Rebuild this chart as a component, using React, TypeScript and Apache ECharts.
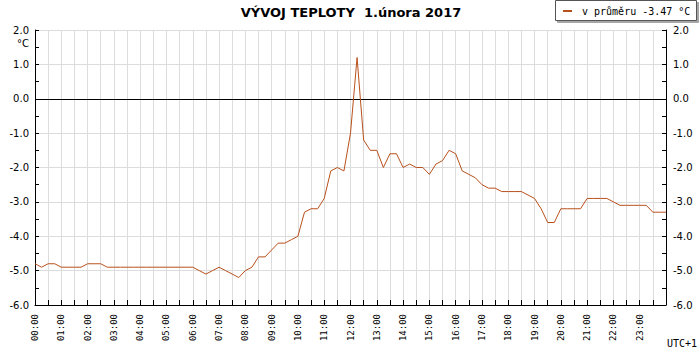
import React, { useEffect, useRef } from "react";
import * as echarts from "echarts";

const titleText = "VÝVOJ TEPLOTY  1.února 2017";
const legendText = "v průměru -3.47 °C";
const unitText = "°C";
const tzText = "UTC+1";

// temperature every 15 minutes, 00:00 .. 24:00
const temps: number[] = [
  -4.8, -4.9, -4.8, -4.8, -4.9, -4.9, -4.9, -4.9, -4.8, -4.8, -4.8, -4.9,
  -4.9, -4.9, -4.9, -4.9, -4.9, -4.9, -4.9, -4.9, -4.9, -4.9, -4.9, -4.9,
  -4.9, -5.0, -5.1, -5.0, -4.9, -5.0, -5.1, -5.2, -5.0, -4.9, -4.6, -4.6,
  -4.4, -4.2, -4.2, -4.1, -4.0, -3.3, -3.2, -3.2, -2.9, -2.1, -2.0, -2.1,
  -1.0, 1.2, -1.2, -1.5, -1.5, -2.0, -1.6, -1.6, -2.0, -1.9, -2.0, -2.0,
  -2.2, -1.9, -1.8, -1.5, -1.6, -2.1, -2.2, -2.3, -2.5, -2.6, -2.6, -2.7,
  -2.7, -2.7, -2.7, -2.8, -2.9, -3.2, -3.6, -3.6, -3.2, -3.2, -3.2, -3.2,
  -2.9, -2.9, -2.9, -2.9, -3.0, -3.1, -3.1, -3.1, -3.1, -3.1, -3.3, -3.3,
  -3.3,
];
const stepMinutes = 15;
const hourLabels: string[] = [
  "00:00", "01:00", "02:00", "03:00", "04:00", "05:00", "06:00", "07:00",
  "08:00", "09:00", "10:00", "11:00", "12:00", "13:00", "14:00", "15:00",
  "16:00", "17:00", "18:00", "19:00", "20:00", "21:00", "22:00", "23:00",
];

const LINE_COLOR = "#b8501c";
const GRID_COLOR = "#dcdcdc";

export default function App() {
  const ref = useRef<HTMLDivElement>(null);
  useEffect(() => {
    if (!ref.current) return;
    const chart = echarts.init(ref.current, undefined, { renderer: "svg" });
    const data = temps.map((v, i) => [i * stepMinutes, v]);
    const yAxisCommon = {
      type: "value" as const,
      min: -6,
      max: 2,
      interval: 1,
      axisLine: { show: true, lineStyle: { color: "#000", width: 1 } },
      axisTick: { show: true, inside: true, length: 4, lineStyle: { color: "#000" } },
      minorTick: { show: true, splitNumber: 2, length: 4, lineStyle: { color: "#000" } },
      axisLabel: {
        color: "#000",
        fontFamily: "DejaVu Sans",
        fontSize: 10,
        formatter: (v: number) => v.toFixed(1),
      },
    };
    chart.setOption({
      animation: false,
      grid: { left: 35, right: 34, top: 30, bottom: 45, containLabel: false },
      xAxis: {
        type: "value",
        min: 0,
        max: 1440,
        interval: 60,
        axisLine: { show: true, onZero: false, lineStyle: { color: "#000", width: 1 } },
        axisTick: { show: true, inside: true, length: 5, lineStyle: { color: "#000" } },
        minorTick: { show: true, splitNumber: 2, length: 5, lineStyle: { color: "#000" } },
        splitLine: { show: true, lineStyle: { color: GRID_COLOR, width: 1 } },
        minorSplitLine: { show: true, lineStyle: { color: GRID_COLOR, width: 1 } },
        axisLabel: {
          rotate: 90,
          margin: 9,
          color: "#000",
          fontFamily: "DejaVu Sans Mono",
          fontSize: 9,
          showMaxLabel: false,
          formatter: (v: number) => hourLabels[Math.round(v / 60)] ?? "",
        },
      },
      yAxis: [
        {
          ...yAxisCommon,
          position: "left",
          splitLine: { show: true, lineStyle: { color: GRID_COLOR, width: 1 } },
          axisLabel: { ...yAxisCommon.axisLabel, margin: 6 },
        },
        {
          ...yAxisCommon,
          position: "right",
          splitLine: { show: false },
          axisLabel: { ...yAxisCommon.axisLabel, margin: 7 },
        },
      ],
      series: [
        {
          type: "line",
          data,
          showSymbol: false,
          symbol: "none",
          lineStyle: { color: LINE_COLOR, width: 1 },
          itemStyle: { color: LINE_COLOR },
          z: 3,
          markLine: {
            silent: true,
            symbol: "none",
            label: { show: false },
            lineStyle: { color: "#000", width: 1, type: "solid" },
            data: [{ yAxis: 0 }],
            z: 2,
          },
        },
      ],
      graphic: [
        {
          type: "text",
          x: 351,
          y: 12,
          style: {
            text: titleText,
            fontFamily: "DejaVu Sans",
            fontWeight: "bold",
            fontSize: 13,
            fill: "#000",
            textAlign: "center",
            textVerticalAlign: "middle",
          },
        },
        {
          type: "rect",
          shape: { x: 555.5, y: 0.5, width: 141, height: 20 },
          style: {
            fill: "#fff",
            stroke: "#555",
            lineWidth: 1,
            shadowColor: "rgba(0,0,0,0.35)",
            shadowOffsetX: 2,
            shadowOffsetY: 2,
            shadowBlur: 0,
          },
        },
        {
          type: "line",
          shape: { x1: 563, y1: 11, x2: 572, y2: 11 },
          style: { stroke: LINE_COLOR, lineWidth: 2 },
        },
        {
          type: "text",
          x: 582,
          y: 11,
          style: {
            text: legendText,
            fontFamily: "DejaVu Sans Mono",
            fontSize: 10,
            fill: "#000",
            textVerticalAlign: "middle",
          },
        },
        {
          type: "text",
          x: 29,
          y: 43,
          style: {
            text: unitText,
            fontFamily: "DejaVu Sans",
            fontSize: 10,
            fill: "#000",
            textAlign: "right",
            textVerticalAlign: "middle",
          },
        },
        {
          type: "text",
          x: 667,
          y: 343,
          style: {
            text: tzText,
            fontFamily: "DejaVu Sans Mono",
            fontSize: 10,
            fill: "#000",
            textVerticalAlign: "middle",
          },
        },
      ],
    });
    return () => chart.dispose();
  }, []);
  return (
    <div
      ref={ref}
      style={{ position: "absolute", left: 0, top: 0, width: 700, height: 350 }}
    />
  );
}
